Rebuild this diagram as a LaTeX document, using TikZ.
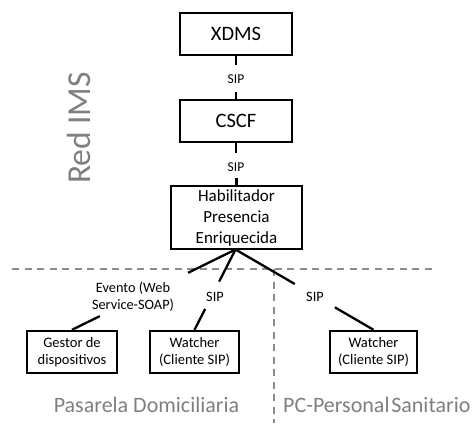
\documentclass[tikz,border=0pt]{standalone}
\usepackage{fontspec}
\setmainfont{Carlito}
\usetikzlibrary{calc}
\definecolor{txtgray}{HTML}{7F7F7F}
\definecolor{dashgray}{HTML}{8C8C8C}
\tikzset{
  bigbox/.style={draw=black, line width=2.6pt, minimum width=112pt, minimum height=42pt, inner sep=0pt, font=\fontsize{20.5}{24}\selectfont},
  smallbox/.style={draw=black, line width=2.4pt, minimum height=42pt, inner sep=0pt, align=center, font=\fontsize{14.5}{17.5}\selectfont},
  proto/.style={inner sep=1pt, align=center, font=\fontsize{14.3}{16.5}\selectfont},
  conn/.style={line width=2.8pt},
  diag/.style={line width=2.3pt},
  sep/.style={dashgray, line width=1.8pt, dash pattern=on 7pt off 5.5pt},
  region/.style={txtgray, inner sep=0pt, font=\fontsize{22}{26}\selectfont}
}
\begin{document}
\begin{tikzpicture}[x=1pt, y=-1pt]
\useasboundingbox (0,0) rectangle (476,423);
% separators
\coordinate (hl) at (12,269);
\coordinate (hr) at (432,269);
\coordinate (vt) at (274,269);
\coordinate (vb) at (274,423);
\draw[sep] (hl) -- (hr);
\draw[sep] (vt) -- (vb);
% boxes
\node[bigbox] (xdms) at (236,34) {XDMS};
\node[bigbox] (cscf) at (236,121) {CSCF};
\node[bigbox, minimum width=131pt, minimum height=63pt, align=center, font=\fontsize{17}{21}\selectfont] (hab) at (236.5,217.5) {Habilitador\\Presencia\\Enriquecida};
\node[smallbox, minimum width=90pt] (gestor) at (72,352) {Gestor de\\dispositivos};
\node[smallbox, minimum width=89pt] (w1) at (194.5,352) {Watcher\\(Cliente SIP)};
\node[smallbox, minimum width=87pt] (w2) at (373.5,352) {Watcher\\(Cliente SIP)};
% vertical connectors
\node[proto, font=\fontsize{13.5}{16}\selectfont] (sip1) at (236,79) {SIP};
\node[proto, font=\fontsize{13.5}{16}\selectfont] (sip2) at (236,167) {SIP};
\draw[conn] (xdms.south) -- ++(0,9);
\draw[conn] (cscf.north) -- ++(0,-7);
\draw[conn] (cscf.south) -- ++(0,10);
\draw[conn] (hab.north) -- ++(0,-7);
% apex
\coordinate (apex) at (235.5,249.5);
% labels
\node[proto] (evt) at (133,297) {Evento (Web\\Service-SOAP)};
\node[proto] (sip3) at (215,297) {SIP};
\node[proto] (sip4) at (315,297) {SIP};
% diagonal connectors
\draw[diag] (apex) -- ($(apex)!0.29!(gestor.north)$);
\draw[diag] ($(apex)!0.83!(gestor.north)$) -- (gestor.north);
\draw[diag] (apex) -- ($(apex)!0.40!(w1.north)$);
\draw[diag] ($(apex)!0.74!(w1.north)$) -- (w1.north);
\draw[diag] (apex) -- ($(apex)!0.43!(w2.north)$);
\draw[diag] ($(apex)!0.72!(w2.north)$) -- (w2.north);
% region labels
\node[region, rotate=90, font=\fontsize{33.5}{38}\selectfont] (ims) at (79,128) {Red IMS};
\node[region] (pasarela) at (146.5,405) {Pasarela Domiciliaria};
\node[region, anchor=west] (pc) at (283,405) {PC-Personal\hspace{0.08em}Sanitario};
\end{tikzpicture}
\end{document}
